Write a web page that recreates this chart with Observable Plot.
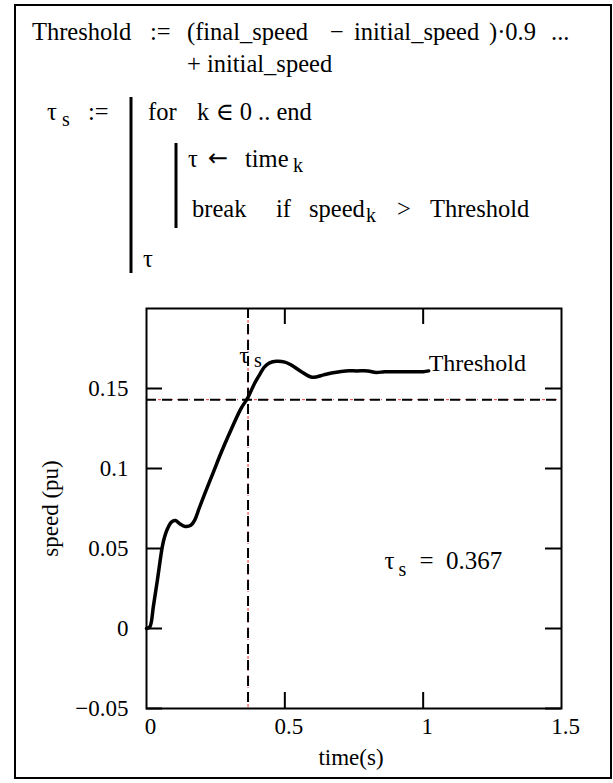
<!DOCTYPE html>
<html><head><meta charset="utf-8">
<script src="https://cdn.jsdelivr.net/npm/d3@7"></script>
<script src="https://cdn.jsdelivr.net/npm/@observablehq/plot@0.6"></script>
<style>
html,body{margin:0;padding:0;background:#fff;}
#wrap{position:relative;width:613px;height:783px;overflow:hidden;font-family:'Liberation Serif','Tinos','Times New Roman','Times','DejaVu Serif',serif;}
#box{position:absolute;left:14px;top:4px;width:598px;height:775px;border:2px solid #000;box-sizing:border-box;}
#formula{position:absolute;left:0;top:0;}
#chart{position:absolute;left:0;top:290px;}
#chart svg, #chart svg text{font-family:'Liberation Serif','Tinos','Times New Roman','Times','DejaVu Serif',serif !important;}
</style></head><body>
<div id="wrap"><div id="box"></div><svg id="formula" width="613" height="290"></svg><div id="chart"></div></div>
<script>
// ---- data ----
const time  = [0, 0.012, 0.025, 0.04, 0.057, 0.065, 0.075, 0.09, 0.105, 0.12, 0.14, 0.16, 0.175, 0.19, 0.21, 0.24, 0.27, 0.3, 0.34, 0.367, 0.39, 0.41, 0.425, 0.445, 0.47, 0.5, 0.52, 0.56, 0.6, 0.64, 0.68, 0.72, 0.76, 0.8, 0.83, 0.86, 0.9, 0.95, 1.0, 1.02];
const speed = [0, 0.001, 0.014, 0.031, 0.051, 0.057, 0.062, 0.0665, 0.0675, 0.0655, 0.0638, 0.0645, 0.068, 0.075, 0.084, 0.097, 0.110, 0.122, 0.137, 0.1445, 0.153, 0.159, 0.1632, 0.166, 0.167, 0.1665, 0.165, 0.1605, 0.157, 0.1585, 0.160, 0.161, 0.161, 0.161, 0.160, 0.1605, 0.1605, 0.1605, 0.1605, 0.161];
const xTicks = [0, 0.5, 1, 1.5];
const yTicks = [-0.05, 0, 0.05, 0.1, 0.15];
const xInnerTicks = [0.5, 1];
const threshold = 0.143;
const tauS = 0.367;
const xDomain = [0, 1.5];
const yDomain = [-0.05, 0.2];

const SERIF = "'Liberation Serif','Tinos','Times New Roman','Times','DejaVu Serif',serif";

// ---- formula (text block above the chart) ----
const F = d3.select("#formula");
function txt(x, y, s, size = 24.5, family = SERIF) {
  F.append("text").attr("x", x).attr("y", y).attr("font-size", size)
    .attr("font-family", family).attr("fill", "#000").text(s);
}
function bar(x, y1, y2) {
  F.append("line").attr("x1", x).attr("x2", x).attr("y1", y1).attr("y2", y2).attr("stroke", "#000").attr("stroke-width", 3);
}
txt(32, 40, "Threshold");
txt(150, 40, ":=");
txt(187, 40, "(final_speed");
txt(330, 40, "\u2212");
txt(354, 40, "initial_speed");
txt(489, 40, ")\u00b70.9");
txt(551, 40, "...");
txt(187, 72, "+ initial_speed");
txt(47, 120, "\u03c4");
txt(62, 126, "s", 20);
txt(88, 120, ":=");
bar(131, 97, 273);
txt(148, 120, "for");
txt(197, 120, "k \u2208 0 .. end");
bar(176, 143, 228);
txt(188, 167, "\u03c4");
txt(208, 166, "\u2190", 24, "'DejaVu Sans','Noto Sans',sans-serif");
txt(245, 167, "time");
txt(293, 172, "k", 20);
txt(192, 217, "break");
txt(276, 217, "if");
txt(309, 217, "speed");
txt(366, 222, "k", 20);
txt(397, 217, ">");
txt(430, 217, "Threshold");
txt(143, 267, "\u03c4");

// ---- chart ----
const data = time.map((t, i) => ({time: t, speed: speed[i]}));
const W = 613, H = 488, mL = 146, mR = 52, mT = 18, mB = 70;
const pw = W - mL - mR, ph = H - mT - mB;
const fmt = d => d < 0 ? "\u2212" + String(-d) : String(d);
const last = data[data.length - 1];

const chart = Plot.plot({
  width: W, height: H,
  marginLeft: mL, marginRight: mR, marginTop: mT, marginBottom: mB,
  style: {fontFamily: SERIF, fontSize: "23px", background: "transparent", color: "#000"},
  x: {domain: xDomain, axis: null, label: null},
  y: {domain: yDomain, axis: null, label: null},
  marks: [
    Plot.axisY({ticks: yTicks, anchor: "left", label: null, tickSize: 0, tickPadding: 18, tickFormat: fmt, fontSize: 23}),
    Plot.axisX({ticks: xTicks, anchor: "bottom", label: null, tickSize: 0, tickPadding: 9, dx: 4, tickFormat: fmt, fontSize: 23}),
    // reference lines (thin red dash-dot under heavier black dashes)
    Plot.ruleY([threshold], {stroke: "#e00", strokeWidth: 0.8, strokeDasharray: "3,4,1,4"}),
    Plot.ruleY([threshold], {stroke: "#000", strokeWidth: 2, strokeDasharray: "10,6"}),
    Plot.ruleX([tauS], {stroke: "#e00", strokeWidth: 0.8, strokeDasharray: "3,4,1,4"}),
    Plot.ruleX([tauS], {stroke: "#000", strokeWidth: 2, strokeDasharray: "10,6"}),
    // inward ticks on all four sides
    Plot.tickY(yTicks, {y: d => d, insetRight: pw - 16, strokeWidth: 2}),
    Plot.tickY(yTicks, {y: d => d, insetLeft: pw - 16, strokeWidth: 2}),
    Plot.tickX(xInnerTicks, {x: d => d, insetTop: ph - 16, strokeWidth: 2}),
    Plot.tickX(xInnerTicks, {x: d => d, insetBottom: ph - 16, strokeWidth: 2}),
    Plot.frame({stroke: "#000", strokeWidth: 2}),
    // response curve
    Plot.line(data, {x: "time", y: "speed", stroke: "#000", strokeWidth: 3.5, curve: "catmull-rom"}),
    // labels
    Plot.text([last], {x: "time", y: "speed", text: () => "Threshold", textAnchor: "start", lineAnchor: "bottom", fontSize: 24}),
    Plot.text([tauS], {x: d => d, frameAnchor: "top", text: () => "\u03c4", textAnchor: "middle", lineAnchor: "bottom", dy: 54, dx: -4, fontSize: 24}),
    Plot.text([tauS], {x: d => d, frameAnchor: "top", text: () => "s", textAnchor: "start", lineAnchor: "bottom", dy: 58, dx: 6, fontSize: 20}),
    Plot.text([tauS], {frameAnchor: "top-left", text: () => "\u03c4", textAnchor: "start", lineAnchor: "bottom", dx: 238, dy: 260, fontSize: 25}),
    Plot.text([tauS], {frameAnchor: "top-left", text: () => "s", textAnchor: "start", lineAnchor: "bottom", dx: 252, dy: 267, fontSize: 20}),
    Plot.text([tauS], {frameAnchor: "top-left", text: d => "=  " + d, textAnchor: "start", lineAnchor: "bottom", dx: 273, dy: 260, fontSize: 25}),
    Plot.text(["speed (pu)"], {frameAnchor: "left", text: d => d, rotate: -90, textAnchor: "middle", lineAnchor: "bottom", dx: -89, fontSize: 23}),
    Plot.text(["time(s)"], {frameAnchor: "bottom", text: d => d, textAnchor: "middle", lineAnchor: "bottom", dx: -3, dy: 56, fontSize: 23})
  ]
});
document.getElementById("chart").appendChild(chart);
</script>
</body></html>
